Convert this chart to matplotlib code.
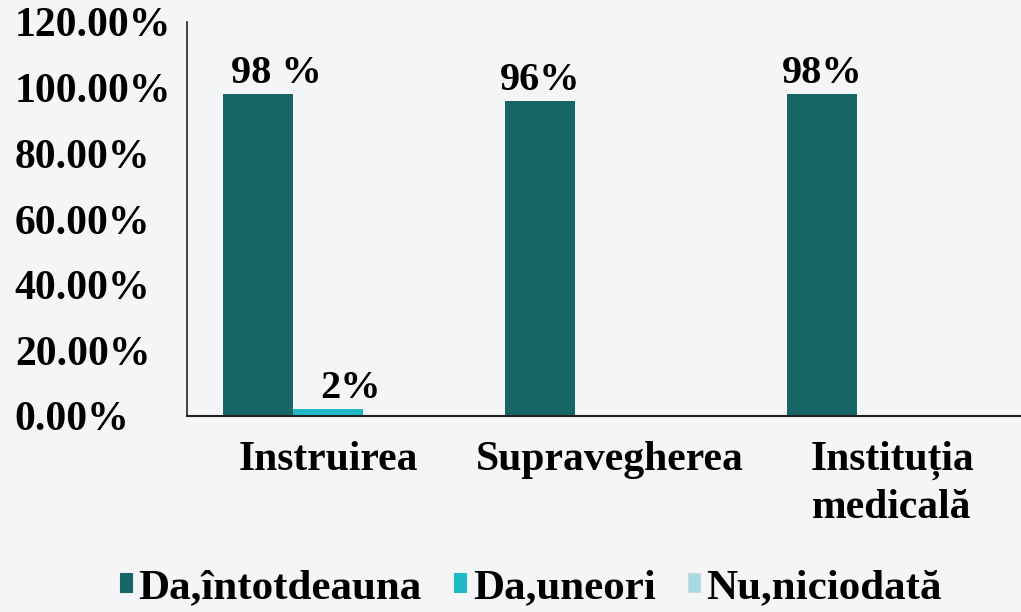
import matplotlib
matplotlib.use('Agg')
import matplotlib.pyplot as plt
import numpy as np
from matplotlib.patches import Patch

plt.rcParams['font.family'] = ['Liberation Serif', 'DejaVu Serif']
plt.rcParams['font.weight'] = 'bold'

categories = ['Instruirea', 'Supravegherea', 'Instituția\nmedicală']
series = ['Da,întotdeauna', 'Da,uneori', 'Nu,niciodată']
da_intotdeauna = [98, 96, 98]
da_uneori = [2, 0, 0]
nu_niciodata = [0, 0, 0]
# value labels as shown on the chart (None = no label)
labels_intotdeauna = ['98 %', '96%', '98%']
labels_uneori = ['2%', None, None]
yticks = [0, 20, 40, 60, 80, 100, 120]

colors = ['#186566', '#20b9c6', '#a6dbe3']
bg = '#f4f5f7'
fs = 30

fig = plt.figure(figsize=(10.21, 6.12), dpi=100, facecolor=bg)
ax = fig.add_axes([187 / 1021, 1 - 416 / 612, 846 / 1021, 394 / 612])
ax.set_facecolor(bg)

x = np.arange(len(categories))
width = 0.248
values = [da_intotdeauna, da_uneori, nu_niciodata]
for i, (vals, c) in enumerate(zip(values, colors)):
    ax.bar(x + (i - 1) * width, vals, width, color=c, linewidth=0, zorder=2)

# data labels
for xi, v, lab in zip(x, da_intotdeauna, labels_intotdeauna):
    dx = 13 if ' ' in lab else 0
    ax.annotate(lab, (xi - width, v), xytext=(dx, 8), textcoords='offset points',
                ha='center', va='baseline', fontsize=fs - 1, fontweight='bold')
for xi, v, lab in zip(x, da_uneori, labels_uneori):
    if lab is None:
        continue
    ax.annotate(lab, (xi, v), xytext=(16, 8), textcoords='offset points',
                ha='center', va='baseline', fontsize=fs - 1, fontweight='bold')

ax.set_xlim(-0.5, len(categories) - 0.5)
ax.set_ylim(0, 120)
ax.set_yticks(yticks)
ax.set_yticklabels(['%.2f%%' % t for t in yticks], ha='left', fontsize=fs, fontweight='bold')
ax.tick_params(axis='y', length=0, pad=124)
ax.set_xticks(x)
ax.set_xticklabels(categories, fontsize=fs, fontweight='bold', linespacing=1.3)
ax.tick_params(axis='x', length=0, pad=18)

for s in ['top', 'right']:
    ax.spines[s].set_visible(False)
ax.spines['left'].set_linewidth(1.2)
ax.spines['bottom'].set_linewidth(1.5)
ax.spines['left'].set_color('#222222')
ax.spines['bottom'].set_color('#222222')

handles = [Patch(facecolor=c, edgecolor='#cfd6da' if i == 2 else c, linewidth=0.8)
           for i, c in enumerate(colors)]
fig.legend(handles, series, loc='center', bbox_to_anchor=(531 / 1021, 1 - 588 / 612),
           ncol=3, frameon=False, prop={'weight': 'bold', 'size': fs + 1},
           handlelength=0.28, handleheight=0.28, handletextpad=0.15, columnspacing=0.75)

fig.savefig('out.png', dpi=100, facecolor=bg)
